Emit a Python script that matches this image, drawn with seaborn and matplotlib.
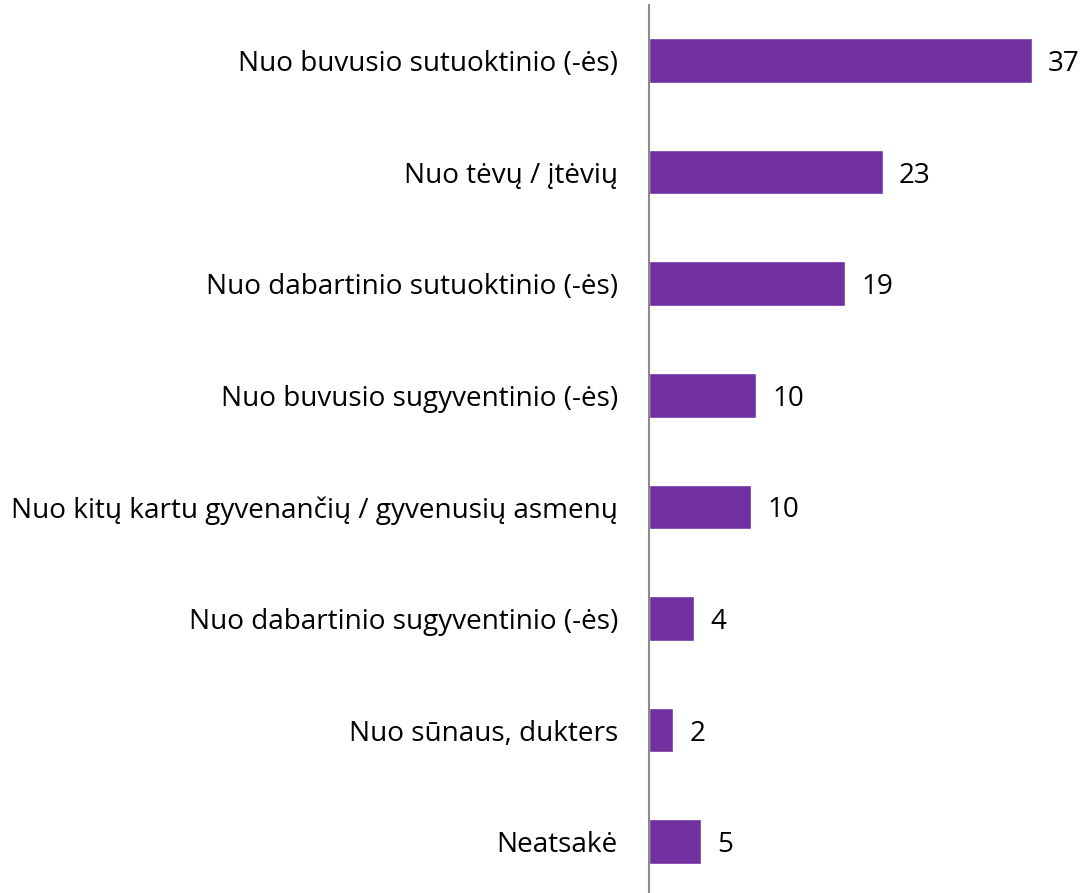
import pandas as pd
import matplotlib
matplotlib.use("Agg")
import matplotlib.pyplot as plt
import seaborn as sns

# Categories, bar lengths and the printed labels
categories = [
    "Nuo buvusio sutuoktinio (-ės)",
    "Nuo tėvų / įtėvių",
    "Nuo dabartinio sutuoktinio (-ės)",
    "Nuo buvusio sugyventinio (-ės)",
    "Nuo kitų kartu gyvenančių / gyvenusių asmenų",
    "Nuo dabartinio sugyventinio (-ės)",
    "Nuo sūnaus, dukters",
    "Neatsakė",
]
values = [37.0, 22.6, 19.0, 10.4, 9.9, 4.4, 2.4, 5.1]
value_labels = ["37", "23", "19", "10", "10", "4", "2", "5"]

BAR_COLOR = "#7030A0"
FONT_SIZE = 20.1

sns.set_style("white")
plt.rcParams["font.family"] = ["Open Sans", "DejaVu Sans"]

df = pd.DataFrame({"category": categories, "value": values})

fig = plt.figure(figsize=(10.83, 8.93), dpi=100)
ax = fig.add_axes([0.5988, -0.005, 0.4012, 0.99978])

sns.barplot(data=df, x="value", y="category", orient="h", color=BAR_COLOR,
            width=0.4, saturation=1, ax=ax)

# value labels to the right of each bar, digits centred on the bar
texts = ax.bar_label(ax.containers[0], labels=value_labels, padding=11.5,
                     fontsize=FONT_SIZE, color="black")
for t in texts:
    t.set_verticalalignment("center_baseline")

ax.set_xlim(0, 41.95)
ax.set_xlabel("")
ax.set_ylabel("")
ax.set_xticks([])
ax.tick_params(axis="y", length=0, pad=22, labelsize=FONT_SIZE, labelcolor="black")

for side in ["top", "right", "bottom"]:
    ax.spines[side].set_visible(False)
ax.spines["left"].set_color("#8c8c8c")
ax.spines["left"].set_linewidth(1.5)

fig.savefig("out.png", dpi=100)
